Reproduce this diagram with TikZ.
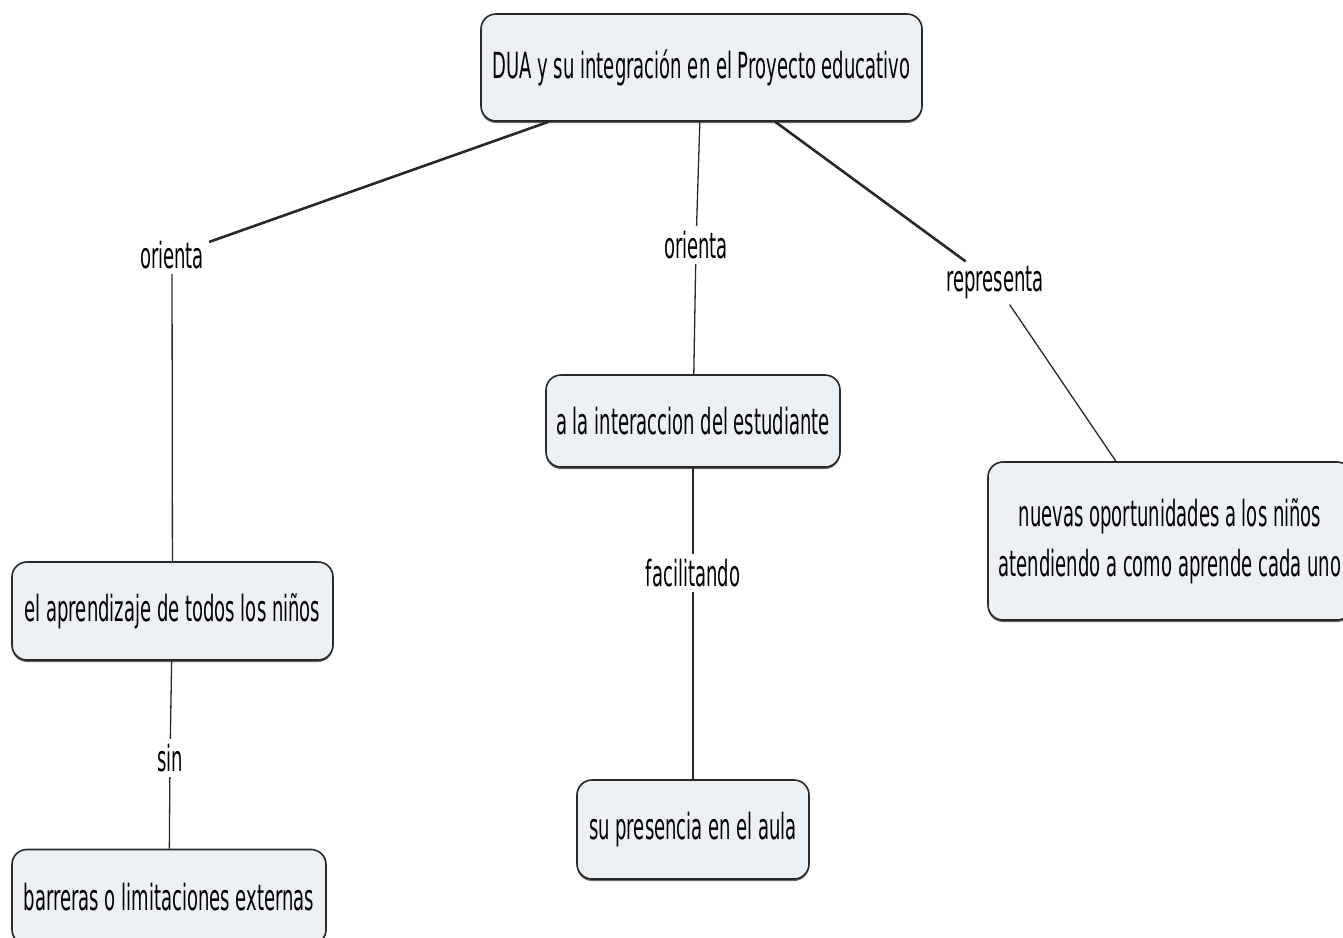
\documentclass[tikz,border=0pt]{standalone}
\usepackage{fontspec}
\setmainfont{DejaVu Sans}[FakeStretch=0.50]
\usetikzlibrary{shadows}
\definecolor{boxfill}{RGB}{235,241,244}
\definecolor{boxline}{RGB}{40,40,40}
\begin{document}
\begin{tikzpicture}[x=1pt,y=-1pt,
  concept/.style={draw=boxline, line width=1.6pt, rounded corners=15pt, fill=boxfill,
    inner sep=0pt, font=\fontsize{36}{50}\selectfont, align=center,
    drop shadow={shadow xshift=0pt, shadow yshift=-2pt, fill=black, opacity=0.6}},
  linkword/.style={inner sep=5pt, font=\fontsize{36}{40}\selectfont},
  heavylink/.style={draw=boxline, line width=2.6pt},
  lightlink/.style={draw=boxline, line width=1.3pt}]
\useasboundingbox (0,0) rectangle (1343,937);

% concepts
\node[concept, minimum width=441pt, minimum height=107pt] (dua) at (701.5,67.5)
  {DUA y su integración en el Proyecto educativo};
\node[concept, minimum width=321pt, minimum height=98pt] (aprend) at (172.5,611)
  {el aprendizaje de todos los niños};
\node[concept, minimum width=314pt, minimum height=95pt] (barreras) at (169,897)
  {barreras o limitaciones externas};
\node[concept, minimum width=294pt, minimum height=92pt] (inter) at (693,421)
  {a la interaccion del estudiante};
\node[concept, minimum width=232pt, minimum height=99pt] (presencia) at (693,829.5)
  {su presencia en el aula};
\node[concept, minimum width=364pt, minimum height=158pt] (nuevas) at (1170,541)
  {nuevas oportunidades a los niños\\ atendiendo a como aprende cada uno};

% linking words
\node[linkword] (orientaA) at (172,255) {orienta};
\node[linkword] (orientaB) at (696,245) {orienta};
\node[linkword] (representa) at (995,283) {representa};
\node[linkword] (facilitando) at (693,573) {facilitando};
\node[linkword] (sin) at (170,758) {sin};

% connectors
\draw[heavylink] (dua) -- (orientaA);
\draw[lightlink] (orientaA) -- (aprend);
\draw[lightlink] (dua) -- (orientaB);
\draw[lightlink] (orientaB) -- (inter);
\draw[heavylink] (dua) -- (representa);
\draw[lightlink] (representa) -- (nuevas);
\draw[lightlink] (inter) -- (facilitando);
\draw[lightlink] (facilitando) -- (presencia);
\draw[lightlink] (aprend) -- (sin);
\draw[lightlink] (sin) -- (barreras);
\end{tikzpicture}
\end{document}
